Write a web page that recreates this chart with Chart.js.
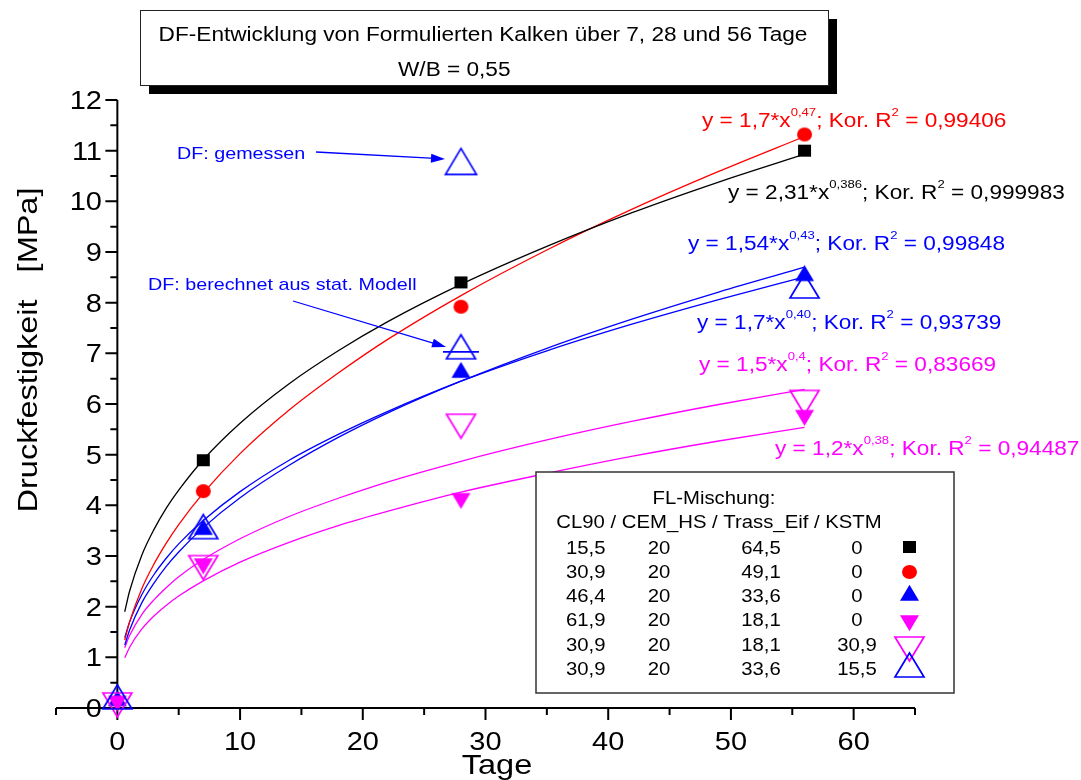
<!DOCTYPE html>
<html>
<head>
<meta charset="utf-8">
<title>DF-Entwicklung</title>
<script src="https://cdn.jsdelivr.net/npm/chart.js@4.4.1/dist/chart.umd.min.js"></script>
<style>
  html, body { margin: 0; padding: 0; background: #fff; }
  #wrap { position: relative; width: 1081px; height: 780px; }
</style>
</head>
<body>
<div id="wrap"><canvas id="chart"></canvas></div>
<script>
// Messwerte: Druckfestigkeit [MPa] nach Tagen
const tage = [0, 7, 28, 56];
const dfSchwarz = [null, 4.89, 8.40, 11.00];
const dfRot = [null, 4.28, 7.92, 11.32];
const dfBlauVoll = [0.14, 3.52, 6.62, 8.53];
const dfMagentaVoll = [0.14, 2.85, 4.14, 5.78];
const dfMagentaOffen = [0.14, 2.85, 5.64, 6.11];
const dfBlauOffen = [0.14, 3.50, 7.05, 8.25];
const dfGemessen = [{ x: 28, y: 10.70 }];
const dfModell = [{ x: 28, y: 7.03 }];

// Fitkurven
const fitTage = [0.6, 1, 2, 3, 4, 5, 7, 10, 14, 18, 22, 28, 35, 42, 49, 56];
const fitSchwarz = [1.90, 2.31, 3.02, 3.53, 3.95, 4.30, 4.90, 5.62, 6.40, 7.05, 7.62, 8.36, 9.11, 9.78, 10.38, 10.93];
const fitRot = [1.34, 1.70, 2.36, 2.85, 3.26, 3.62, 4.24, 5.02, 5.88, 6.61, 7.27, 8.14, 9.04, 9.85, 10.59, 11.28];
const fitBlauVoll = [1.24, 1.54, 2.08, 2.47, 2.80, 3.08, 3.56, 4.15, 4.79, 5.34, 5.82, 6.45, 7.10, 7.68, 8.21, 8.70];
const fitBlauOffen = [1.39, 1.70, 2.24, 2.64, 2.96, 3.24, 3.70, 4.27, 4.89, 5.40, 5.85, 6.45, 7.05, 7.58, 8.06, 8.51];
const fitMagentaOffen = [1.19, 1.43, 1.85, 2.14, 2.38, 2.59, 2.93, 3.34, 3.78, 4.14, 4.46, 4.87, 5.29, 5.66, 5.99, 6.29];
const fitMagentaVoll = [0.99, 1.20, 1.56, 1.82, 2.03, 2.21, 2.51, 2.88, 3.27, 3.60, 3.88, 4.26, 4.63, 4.97, 5.27, 5.54];

// Achsen
const xTicks = [0, 10, 20, 30, 40, 50, 60];
const yTicks = [0, 1, 2, 3, 4, 5, 6, 7, 8, 9, 10, 11, 12];

// Texte
const titel = ['DF-Entwicklung von Formulierten Kalken über 7, 28 und 56 Tage', 'W/B = 0,55'];
const gleichungen = [
  ['y = 1,7*x', '0,47', '; Kor. R', '2', ' = 0,99406'],
  ['y = 2,31*x', '0,386', '; Kor. R', '2', ' = 0,999983'],
  ['y = 1,54*x', '0,43', '; Kor. R', '2', ' = 0,99848'],
  ['y = 1,7*x', '0,40', '; Kor. R', '2', ' = 0,93739'],
  ['y = 1,5*x', '0,4', '; Kor. R', '2', ' = 0,83669'],
  ['y = 1,2*x', '0,38', '; Kor. R', '2', ' = 0,94487']
];
const legendeTitel = ['FL-Mischung:', 'CL90 / CEM_HS / Trass_Eif / KSTM'];
const mischungen = [
  ['15,5', '20', '64,5', '0'],
  ['30,9', '20', '49,1', '0'],
  ['46,4', '20', '33,6', '0'],
  ['61,9', '20', '18,1', '0'],
  ['30,9', '20', '18,1', '30,9'],
  ['30,9', '20', '33,6', '15,5']
];

const SCHWARZ = '#000000', ROT = '#ff0000', BLAU = '#0000ff', MAGENTA = '#ff00ff';
const FONT = '"Liberation Sans", Arial, Helvetica, sans-serif';
const SX = 1.16; // Schrift ist im Original breiter

// Symbole als kleine Canvas-Bilder (Dreiecke um den Schwerpunkt zentriert)
function symbol(form, w, h, farbe, gefuellt) {
  const pad = 4;
  const c = document.createElement('canvas');
  const tri = form === 'auf' || form === 'ab';
  c.width = Math.round(w + 2 * pad);
  c.height = Math.round((tri ? 4 * h / 3 : h) + 2 * pad);
  const g = c.getContext('2d');
  const cx = c.width / 2, cy = c.height / 2;
  g.fillStyle = farbe;
  g.strokeStyle = farbe;
  g.lineWidth = 1.7;
  g.beginPath();
  if (form === 'quadrat') g.rect(cx - w / 2, cy - h / 2, w, h);
  else if (form === 'kreis') g.ellipse(cx, cy, w / 2, h / 2, 0, 0, Math.PI * 2);
  else if (form === 'auf') {
    g.moveTo(cx, cy - 2 * h / 3); g.lineTo(cx + w / 2, cy + h / 3); g.lineTo(cx - w / 2, cy + h / 3); g.closePath();
  } else {
    g.moveTo(cx, cy + 2 * h / 3); g.lineTo(cx + w / 2, cy - h / 3); g.lineTo(cx - w / 2, cy - h / 3); g.closePath();
  }
  if (gefuellt) g.fill(); else g.stroke();
  return c;
}

const symQuadrat = symbol('quadrat', 13, 12, SCHWARZ, true);
const symKreis = symbol('kreis', 15, 14, ROT, true);
const symBlauVoll = symbol('auf', 19, 16, BLAU, true);
const symMagentaVoll = symbol('ab', 19, 16, MAGENTA, true);
const symMagentaOffen = symbol('ab', 29, 24, MAGENTA, false);
const symBlauOffen = symbol('auf', 29, 24, BLAU, false);
const symGemessen = symbol('auf', 31, 26, BLAU, false);
const legendeSymbole = [symQuadrat, symKreis, symBlauVoll, symMagentaVoll, symMagentaOffen, symBlauOffen];

function punkte(werte) {
  return tage.map((t, i) => ({ x: t, y: werte[i] })).filter(p => p.y !== null);
}
function kurve(werte) {
  return fitTage.map((t, i) => ({ x: t, y: werte[i] }));
}

function fitSet(werte, farbe) {
  return {
    data: kurve(werte), showLine: true, borderColor: farbe, borderWidth: 1.3,
    pointRadius: 0, cubicInterpolationMode: 'monotone', order: 10, clip: false
  };
}
function punktSet(werte, sym, ord) {
  return {
    data: werte, showLine: false, pointStyle: sym, pointRadius: 8, order: ord, clip: false
  };
}

// Text mit Versalhöhen-Mitte bei y, horizontal gestreckt
function txt(ctx, s, x, y, size, farbe, align) {
  ctx.save();
  ctx.font = size + 'px ' + FONT;
  ctx.fillStyle = farbe;
  ctx.textBaseline = 'alphabetic';
  ctx.textAlign = 'left';
  const w = ctx.measureText(s).width * SX;
  let x0 = x;
  if (align === 'center') x0 = x - w / 2;
  else if (align === 'right') x0 = x - w;
  ctx.translate(x0, y + size * 0.358);
  ctx.scale(SX, 1);
  ctx.fillText(s, 0, 0);
  ctx.restore();
  return w;
}

function gleichung(ctx, teile, x, y, size, farbe) {
  let cx = x;
  teile.forEach((t, i) => {
    const hoch = i % 2 === 1;
    cx += txt(ctx, t, cx, hoch ? y - size * 0.42 : y, hoch ? size * 0.58 : size, farbe, 'left');
  });
}

function pfeil(ctx, x1, y1, x2, y2, farbe) {
  const a = Math.atan2(y2 - y1, x2 - x1);
  ctx.save();
  ctx.strokeStyle = farbe;
  ctx.fillStyle = farbe;
  ctx.lineWidth = 1.3;
  ctx.beginPath();
  ctx.moveTo(x1, y1);
  ctx.lineTo(x2 - 10 * Math.cos(a), y2 - 10 * Math.sin(a));
  ctx.stroke();
  ctx.translate(x2, y2);
  ctx.rotate(a);
  ctx.beginPath();
  ctx.moveTo(0, 0);
  ctx.lineTo(-14, -4.5);
  ctx.lineTo(-14, 4.5);
  ctx.closePath();
  ctx.fill();
  ctx.restore();
}

const achsenPlugin = {
  id: 'achsen',
  beforeDatasetsDraw(chart) {
    const ctx = chart.ctx;
    const xs = chart.scales.x, ys = chart.scales.y;
    const x0 = xs.getPixelForValue(0), y0 = ys.getPixelForValue(0);
    ctx.save();
    ctx.strokeStyle = '#000';
    ctx.lineWidth = 2;
    ctx.beginPath();
    ctx.moveTo(xs.left, y0); ctx.lineTo(xs.right, y0);
    ctx.moveTo(x0, y0); ctx.lineTo(x0, ys.top);
    for (let v = xs.min; v <= xs.max; v += 5) {
      const px = xs.getPixelForValue(v);
      ctx.moveTo(px, y0); ctx.lineTo(px, y0 + (v % 10 === 0 ? 12 : 7));
    }
    for (let v = 0; v <= ys.max; v += 0.5) {
      const py = ys.getPixelForValue(v);
      ctx.moveTo(x0, py); ctx.lineTo(x0 - (v % 1 === 0 ? 12 : 7), py);
    }
    ctx.stroke();
    ctx.restore();
    xTicks.forEach(v => txt(ctx, String(v), xs.getPixelForValue(v), 741, 25, '#000', 'center'));
    yTicks.forEach(v => txt(ctx, String(v), 102, ys.getPixelForValue(v), 25, '#000', 'right'));
    txt(ctx, 'Tage', 497, 764, 28, '#000', 'center');
    ctx.save();
    ctx.translate(27, 350);
    ctx.rotate(-Math.PI / 2);
    txt(ctx, 'Druckfestigkeit   [MPa]', 0, 0, 28, '#000', 'center');
    ctx.restore();
  },
  afterDatasetsDraw(chart) {
    const ctx = chart.ctx;
    // Titelkasten mit Schatten
    ctx.save();
    ctx.fillStyle = '#000';
    ctx.fillRect(149, 19, 688, 75);
    ctx.fillStyle = '#fff';
    ctx.fillRect(140, 10, 688, 75);
    ctx.strokeStyle = '#222';
    ctx.lineWidth = 1;
    ctx.strokeRect(140.5, 10.5, 688, 75);
    ctx.restore();
    txt(ctx, titel[0], 483, 34, 19.5, '#000', 'center');
    txt(ctx, titel[1], 398, 69, 19.5, '#000', 'left');

    // Gleichungen
    const farben = [ROT, SCHWARZ, BLAU, BLAU, MAGENTA, MAGENTA];
    const pos = [[702, 120], [728, 192], [688, 243], [697, 322], [699, 364], [775, 448]];
    gleichungen.forEach((g, i) => gleichung(ctx, g, pos[i][0], pos[i][1], 19.5, farben[i]));

    // Hinweise mit Pfeilen
    txt(ctx, 'DF: gemessen', 177, 153, 17, BLAU, 'left');
    pfeil(ctx, 316, 152, 445, 159, BLAU);
    txt(ctx, 'DF: berechnet aus stat. Modell', 148, 284, 17, BLAU, 'left');
    pfeil(ctx, 293, 301, 446, 347, BLAU);

    // Legendenkasten
    ctx.save();
    ctx.fillStyle = '#fff';
    ctx.fillRect(536, 472, 418, 221);
    ctx.strokeStyle = '#333';
    ctx.lineWidth = 1.5;
    ctx.strokeRect(536, 472, 418, 221);
    ctx.restore();
    txt(ctx, legendeTitel[0], 714, 498, 17.5, '#000', 'center');
    txt(ctx, legendeTitel[1], 719, 522, 17.5, '#000', 'center');
    mischungen.forEach((m, i) => {
      const y = 547.3 + i * 24.3;
      txt(ctx, m[0], 566, y, 17.5, '#000', 'left');
      txt(ctx, m[1], 659, y, 17.5, '#000', 'center');
      txt(ctx, m[2], 761, y, 17.5, '#000', 'center');
      txt(ctx, m[3], 857, y, 17.5, '#000', 'center');
      const s = legendeSymbole[i];
      ctx.drawImage(s, Math.round(909 - s.width / 2), Math.round(y - s.height / 2));
    });
  }
};

new Chart(document.getElementById('chart'), {
  type: 'scatter',
  data: {
    datasets: [
      fitSet(fitSchwarz, SCHWARZ),
      fitSet(fitRot, ROT),
      fitSet(fitBlauVoll, BLAU),
      fitSet(fitBlauOffen, BLAU),
      fitSet(fitMagentaOffen, MAGENTA),
      fitSet(fitMagentaVoll, MAGENTA),
      punktSet(punkte(dfSchwarz), symQuadrat, 6),
      punktSet(punkte(dfRot), symKreis, 5),
      punktSet(punkte(dfBlauVoll), symBlauVoll, 4),
      punktSet(punkte(dfMagentaVoll), symMagentaVoll, 3),
      punktSet(punkte(dfMagentaOffen), symMagentaOffen, 2),
      punktSet(punkte(dfBlauOffen), symBlauOffen, 1),
      punktSet(dfGemessen, symGemessen, 1),
      {
        data: dfModell, showLine: false, pointStyle: 'line', pointRadius: 18,
        borderColor: BLAU, borderWidth: 1.7, order: 0, clip: false
      }
    ]
  },
  options: {
    responsive: true,
    maintainAspectRatio: false,
    animation: false,
    layout: { padding: { left: 56, right: 166, top: 100, bottom: 72 } },
    plugins: { legend: { display: false }, tooltip: { enabled: false } },
    scales: {
      x: { type: 'linear', min: -5, max: 65, display: false },
      y: { type: 'linear', min: 0, max: 12, display: false }
    }
  },
  plugins: [achsenPlugin]
});
</script>
</body>
</html>
